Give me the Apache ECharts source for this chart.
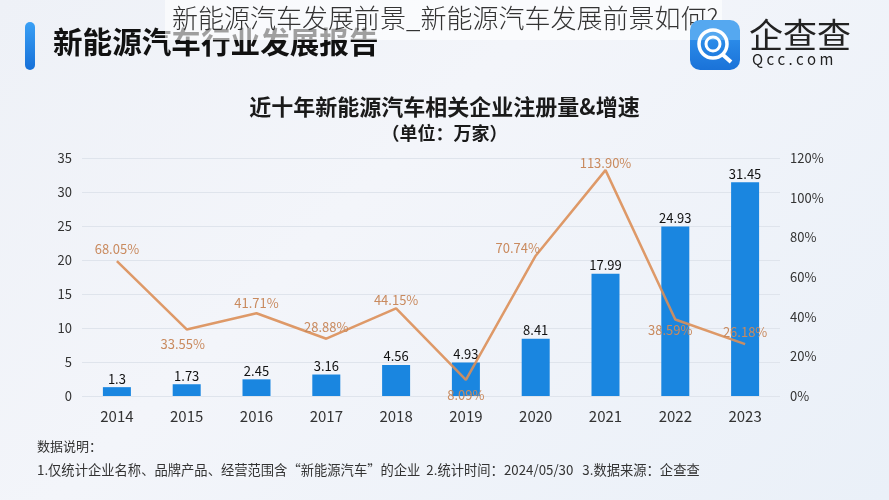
<!DOCTYPE html>
<html><head><meta charset="utf-8">
<script src="https://cdn.jsdelivr.net/npm/echarts@6/dist/echarts.min.js"></script>
<style>html,body{margin:0;padding:0;}#c{width:889px;height:500px;background:linear-gradient(135deg,#eef1f7 0%,#f3f5fa 40%,#eaf0f8 100%);}</style>
</head><body><div id="c"></div>
<script>
const years = ['2014','2015','2016','2017','2018','2019','2020','2021','2022','2023'];
const registrations = [1.3, 1.73, 2.45, 3.16, 4.56, 4.93, 8.41, 17.99, 24.93, 31.45];
const growthRates = [68.05, 33.55, 41.71, 28.88, 44.15, 8.09, 70.74, 113.90, 38.59, 26.18];
const growthLabelPos = ['top','bottom','top','top','top','bottom','top','top','bottom','top'];
const leftTicks = [0,5,10,15,20,25,30,35];
const rightTicks = [0,20,40,60,80,100,120];

const labelDist = [5, 8, 3, 5, 1, 8, 1, 0, 4, 5];
const labelOffset = [[0,0],[-4,0],[0,0],[0,0],[0,0],[0,0],[-18,0],[0,0],[-5,0],[0,0]];

const FONT = '"Noto Sans CJK SC", "Noto Sans", sans-serif';
const chart = echarts.init(document.getElementById('c'));
chart.setOption({
  backgroundColor: 'transparent',
  textStyle: {fontFamily: FONT},
  title: [
    {text: '近十年新能源汽车相关企业注册量&增速', left: 'center', top: 91,
     textStyle: {fontSize: 22, fontWeight: 'bold', color: '#1a1a1a', fontFamily: FONT}},
    {text: '（单位：万家）', left: 'center', top: 119,
     textStyle: {fontSize: 18, fontWeight: 'bold', color: '#1a1a1a', fontFamily: FONT}}
  ],
  grid: {left: 82, right: 109, top: 158, bottom: 104},
  xAxis: {type: 'category', data: years,
    axisLine: {show: false}, axisTick: {show: false},
    axisLabel: {fontSize: 15, color: '#333', margin: 13}},
  yAxis: [
    {type: 'value', min: 0, max: 35, interval: 5,
     axisLabel: {fontSize: 13, color: '#333', margin: 10},
     splitLine: {lineStyle: {color: '#dfe4ec'}}},
    {type: 'value', min: 0, max: 120, interval: 20,
     axisLabel: {fontSize: 13, color: '#333', margin: 10, formatter: '{value}%'},
     splitLine: {show: false}}
  ],
  series: [
    {type: 'bar', data: registrations, barWidth: 28,
     itemStyle: {color: '#1a86e0'},
     label: {show: true, position: 'top', fontSize: 13, color: '#111', distance: 2}},
    {type: 'line', yAxisIndex: 1, symbol: 'circle', symbolSize: 1, showSymbol: true, z: 5,
     itemStyle: {color: 'rgba(224,146,90,0)'},
     lineStyle: {color: '#dc8f58', width: 2.5, opacity: 0.9},
     data: growthRates.map((v, i) => ({value: v,
       label: {position: growthLabelPos[i], distance: labelDist[i], offset: labelOffset[i]}})),
     label: {show: true, fontSize: 13, color: '#c98a5e',
       formatter: p => p.value.toFixed(2) + '%'}}
  ],
  graphic: [
    {type: 'rect', shape: {x: 25, y: 22, width: 10, height: 48, r: 5},
     style: {fill: new echarts.graphic.LinearGradient(0,0,0,1,[{offset:0,color:'#3aa0f5'},{offset:1,color:'#1670d8'}])}},
    {type: 'text', left: 53, top: 27,
     style: {text: '新能源汽车行业发展报告', font: 'bold 29.6px ' + FONT, fill: '#111'}},
    {type: 'rect', shape: {x: 165, y: 0, width: 557, height: 40},
     style: {fill: 'rgba(255,255,255,0.6)'}},
    {type: 'text', left: 172, top: 5,
     style: {text: '新能源汽车发展前景_新能源汽车发展前景如何?', font: '300 26px ' + FONT, fill: '#333'}},
    {type: 'rect', shape: {x: 690, y: 20, width: 50, height: 50, r: 10},
     style: {fill: new echarts.graphic.LinearGradient(0,0,0,1,[{offset:0,color:'#55a8f0'},{offset:0.4,color:'#55a8f0'},{offset:0.41,color:'#2a8ae8'},{offset:1,color:'#1a72d8'}])}},
    {type: 'circle', shape: {cx: 713, cy: 44, r: 14}, style: {fill: 'none', stroke: '#fff', lineWidth: 3.5}},
    {type: 'circle', shape: {cx: 713, cy: 44, r: 7}, style: {fill: 'none', stroke: '#fff', lineWidth: 3}},
    {type: 'line', shape: {x1: 722, y1: 54, x2: 731, y2: 62}, style: {stroke: '#fff', lineWidth: 4}},
    {type: 'text', left: 749, top: 18,
     style: {text: '企查查', font: '34px ' + FONT, fill: '#222'}},
    {type: 'text', left: 752, top: 52,
     style: {text: 'Q c c . c o m', font: '15px ' + FONT, fill: '#222'}},
    {type: 'text', left: 37, top: 440,
     style: {text: '数据说明：', font: '13px ' + FONT, fill: '#333'}},
    {type: 'text', left: 37, top: 463,
     style: {text: '1.仅统计企业名称、品牌产品、经营范围含“新能源汽车”的企业  2.统计时间：2024/05/30   3.数据来源：企查查', font: '13.3px ' + FONT, fill: '#333'}}
  ]
});
</script></body></html>
